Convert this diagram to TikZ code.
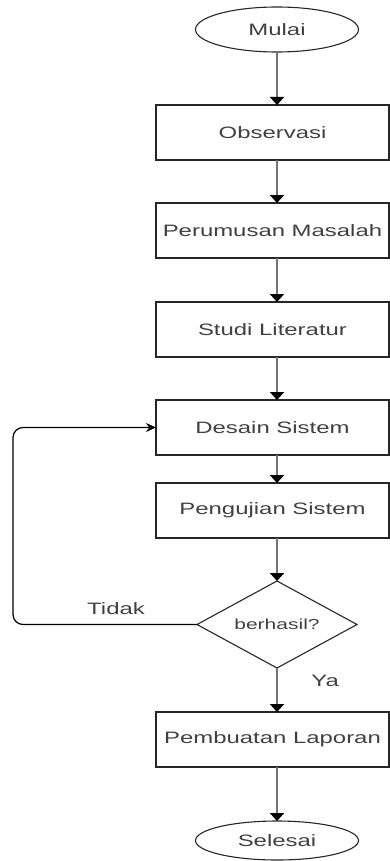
\documentclass[tikz,border=0pt]{standalone}
\usepackage{fontspec}
\setmainfont[FakeStretch=1.45]{Liberation Sans}
\usetikzlibrary{shapes.geometric, arrows.meta, positioning}
\tikzstyle{startstop} = [ellipse, draw=black!85, line width=1.1pt, minimum width=163pt, minimum height=45pt, inner sep=0pt, outer sep=0pt, text=black!75]
\tikzstyle{process} = [rectangle, draw=black!85, line width=1.1pt, minimum width=233pt, minimum height=55pt, inner sep=0pt, outer sep=0pt, text=black!75]
\tikzstyle{decision} = [diamond, draw=black!85, line width=1.1pt, aspect=1.84, minimum width=160pt, minimum height=87pt, inner sep=0pt, outer sep=0pt, text=black!75, font=\fontsize{14.5}{17}\selectfont]
\tikzstyle{arrow} = [draw=black!55, line width=2.2pt, -{Triangle[width=14pt,length=8pt,color=black]}]
\tikzstyle{back} = [draw=black, line width=1.2pt, rounded corners=10pt, -{Stealth[width=9pt,length=10pt]}]

\begin{document}
\begin{tikzpicture}[font=\fontsize{16.5}{19}\selectfont]
	\useasboundingbox (0,0) rectangle (390pt,-861pt);
	\node (Mulai) [startstop] at (277pt,-29.5pt) {Mulai};
	\node (Observasi) [process, below = 53pt of Mulai, xshift=-4.5pt] {Observasi};
	\node (Perumusan) [process, below = 43pt of Observasi] {Perumusan Masalah};
	\node (Studi) [process, below = 44pt of Perumusan] {Studi Literatur};
	\node (Desain) [process, below = 43pt of Studi] {Desain Sistem};
	\node (Pengujian) [process, below = 28pt of Desain] {Pengujian Sistem};
	\node (Berhasil) [decision, below = 43pt of Pengujian, xshift=4.5pt] {berhasil?};
	\node (Pembuatan) [process, below = 44pt of Berhasil, xshift=-4.5pt] {Pembuatan Laporan};
	\node (Selesai) [startstop, minimum height=39pt, below = 54pt of Pembuatan, xshift=4.5pt] {Selesai};
	\draw [arrow] (Mulai) -- (Mulai |- Observasi.north);
	\draw [arrow] (Mulai |- Observasi.south) -- (Mulai |- Perumusan.north);
	\draw [arrow] (Mulai |- Perumusan.south) -- (Mulai |- Studi.north);
	\draw [arrow] (Mulai |- Studi.south) -- (Mulai |- Desain.north);
	\draw [arrow] (Mulai |- Desain.south) -- (Mulai |- Pengujian.north);
	\draw [arrow] (Mulai |- Pengujian.south) -- (Berhasil);
	\draw [arrow] (Berhasil) -- node[right = 30pt, pos=0.3, text=black!75]{Ya} (Berhasil |- Pembuatan.north);
	\draw [arrow] (Berhasil |- Pembuatan.south) -- (Selesai);
	\draw [back] (Berhasil.west) -- node[above = 6pt, pos=0.44, text=black!75]{Tidak} ++(-184pt,0) |- (Desain.west);
\end{tikzpicture}
\end{document}
